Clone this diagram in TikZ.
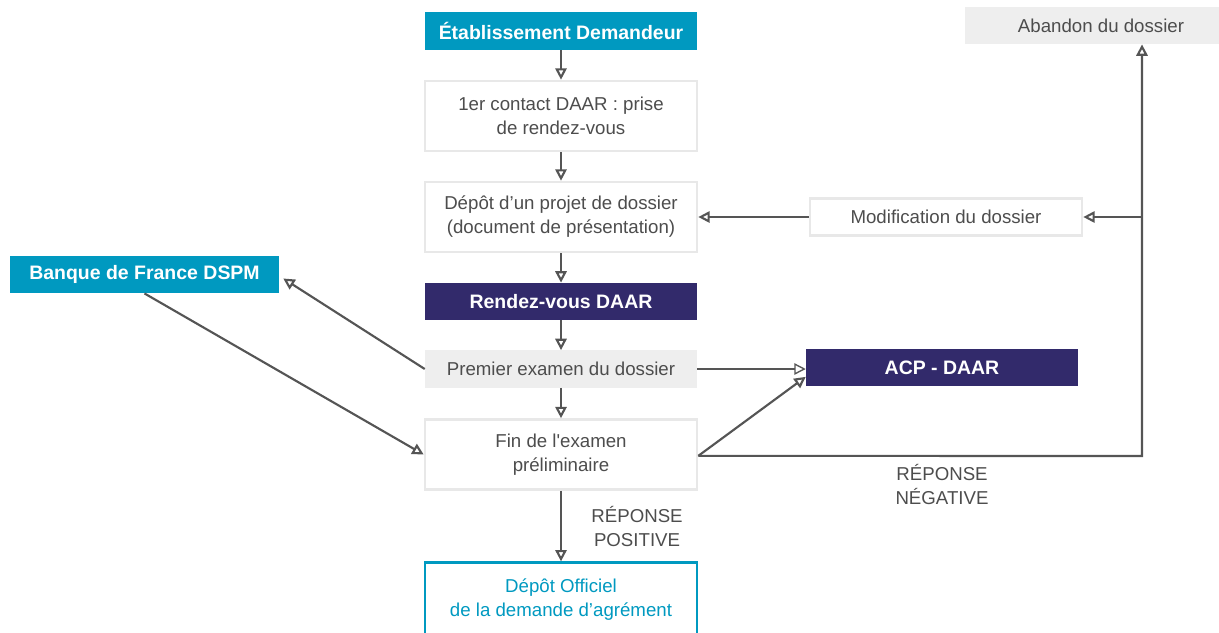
\documentclass[tikz,border=0pt]{standalone}
\usepackage{fontspec}
\setmainfont{Liberation Sans}[Ligatures=TeXOff]
\usetikzlibrary{arrows.meta, positioning}
\definecolor{bleu}{HTML}{0099C0}
\definecolor{violet}{HTML}{322A6B}
\definecolor{grisclair}{HTML}{EEEEEE}
\definecolor{bord}{HTML}{E8E8E8}
\definecolor{texte}{HTML}{4D4D4D}
\definecolor{fleche}{HTML}{555555}

\begin{document}
\begin{tikzpicture}[x=0.75pt, y=-0.75pt,
    every node/.style={font=\fontsize{14}{18}\selectfont, align=center, inner sep=0pt},
    boite/.style={minimum width=204pt, minimum height=52.5pt},
    bandeau/.style={minimum width=204pt, minimum height=28pt},
    bleubox/.style={bandeau, fill=bleu, text=white, font=\fontsize{14.6}{18}\selectfont\bfseries},
    violetbox/.style={bandeau, fill=violet, text=white, font=\fontsize{14.6}{18}\selectfont\bfseries},
    grisbox/.style={bandeau, fill=grisclair, text=texte},
    blancbox/.style={boite, fill=white, draw=bord, line width=2pt, text=texte},
    fl/.style={-{Triangle[open, length=8.5pt, width=8.5pt]}, fleche, line width=1.6pt},
    fin/.style={fl, line width=1pt}
]
    \useasboundingbox (0,0) rectangle (1219,632);

    % colonne centrale
    \node[bleubox] (etab) at (561,31) {Établissement Demandeur};
    \node[blancbox] (contact) at (561,116) {1er contact DAAR : prise\\de rendez-vous};
    \node[blancbox] (depot) at (561,217) {Dépôt d’un projet de dossier\\(document de présentation)};
    \node[violetbox] (rdv) at (561,301.5) {Rendez-vous DAAR};
    \node[grisbox] (premier) at (561,369) {Premier examen du dossier};
    \node[blancbox] (finex) at (561,454.5) {Fin de l'examen\\préliminaire};
    \node[boite, draw=bleu, line width=2pt, text=bleu, minimum height=56pt] (officiel) at (561,600)
        {Dépôt Officiel\\de la demande d’agrément};

    % cotes
    \node[bleubox, minimum width=201.75pt] (banque) at (144.5,274.5) {Banque de France DSPM};
    \node[violetbox] (acp) at (942,367.5) {ACP - DAAR};
    \node[blancbox, minimum height=27.5pt] (modif) at (946,217) {Modification du dossier};
    \node[grisbox] (abandon) at (1101,25.5) {Abandon du dossier};

    \coordinate (coin) at (1142,456);
    \coordinate (branche) at (1142,217);

    \draw[fl] (etab) -- (contact);
    \draw[fl] (contact) -- (depot);
    \draw[fl] (depot) -- (rdv);
    \draw[fl] (rdv) -- (premier);
    \draw[fl] (premier) -- (finex);
    \draw[fl] (finex) -- (officiel)
        node[midway, right=22pt, text=texte] (positif) {RÉPONSE\\POSITIVE};

    \draw[fl] (premier.west) -- ([xshift=3pt, yshift=-3pt]banque.east);
    \draw[fl] (banque.south) -- (finex.west);
    \draw[fin] (premier.east) -- (premier.east -| acp.west);
    \draw[fl] ([yshift=-1pt]finex.east) -- ([yshift=-7pt]acp.west);

    \draw[fl] ([yshift=-1pt]finex.east) -- (coin) -- (coin |- abandon.south);
    \draw[fl] (branche) -- (branche -| modif.east);
    \draw[fl] (modif.west) -- (depot.east);
    \node[text=texte] (negatif) at (942,484) {RÉPONSE\\NÉGATIVE};

\end{tikzpicture}
\end{document}
